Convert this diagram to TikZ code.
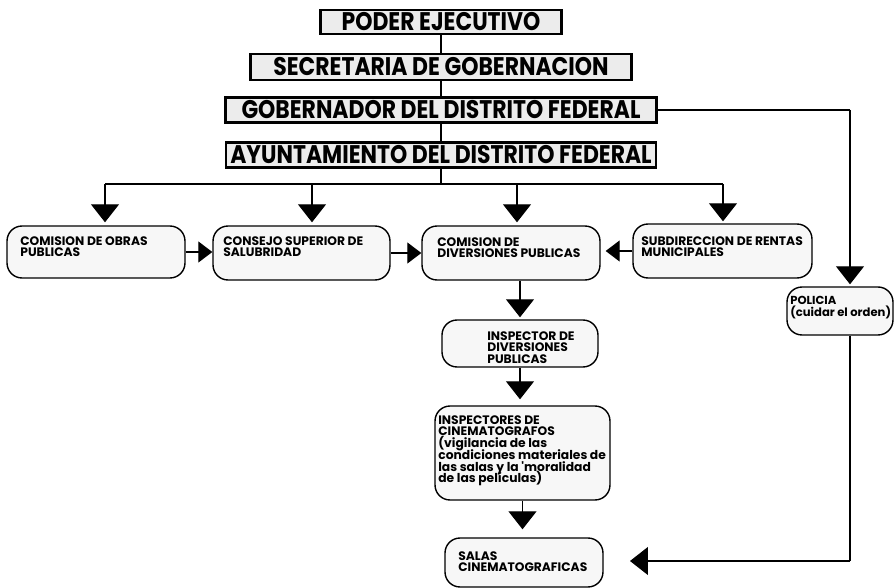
\documentclass[tikz,border=0pt]{standalone}
\usepackage{fontspec}
\newfontfamily\boxfont{Poppins}
\newfontfamily\topfont{Poppins}[FakeStretch=0.86]
\newcommand\tightlines{\lineskiplimit=-5pt\relax}
\usetikzlibrary{arrows.meta}

\begin{document}
\begin{tikzpicture}[x=0.02cm,y=-0.02cm,
    topbox/.style={draw, line width=1.3pt, fill=gray!15, inner sep=0pt,
      font=\topfont\bfseries\fontsize{14.5}{16}\selectfont},
    roundbox/.style={draw, line width=0.8pt, rounded corners=0.3cm, fill=gray!6, inner sep=0pt},
    boxtext/.style={anchor=north west, inner sep=0pt, align=left,
      font=\boxfont\bfseries\fontsize{7}{6.7}\selectfont\tightlines},
    conn/.style={line width=0.6pt},
    bigarrow/.style={conn, -{Triangle[length=0.36cm,width=0.56cm]}},
    sidearrow/.style={conn, -{Triangle[length=0.28cm,width=0.42cm]}}]
  \useasboundingbox (0,0) rectangle (894,588);

  % top of the chain
  \node[topbox, minimum width=4.82cm, minimum height=0.48cm] (poder) at (441,22) {PODER EJECUTIVO\hspace{0.5cm}};
  \node[topbox, minimum width=7.62cm, minimum height=0.52cm] (secre) at (441,67) {SECRETARIA DE GOBERNACION};
  \node[topbox, minimum width=8.62cm, minimum height=0.5cm] (gober) at (441,110) {GOBERNADOR DEL DISTRITO FEDERAL};
  \node[topbox, minimum width=8.6cm, minimum height=0.5cm] (ayunt) at (441,155) {AYUNTAMIENTO DEL DISTRITO FEDERAL};

  % rounded boxes
  \node[roundbox, minimum width=3.56cm, minimum height=1.04cm] (obras) at (96,252) {};
  \node[roundbox, minimum width=3.54cm, minimum height=1.08cm] (consejo) at (301.5,253) {};
  \node[roundbox, minimum width=3.56cm, minimum height=1.08cm] (cdp) at (511,253) {};
  \node[roundbox, minimum width=3.58cm, minimum height=1.08cm] (subdir) at (722.5,251) {};
  \node[roundbox, minimum width=2.12cm, minimum height=0.96cm] (policia) at (840,311) {};
  \node[roundbox, minimum width=3.12cm, minimum height=0.94cm] (insp) at (520,343.5) {};
  \node[roundbox, minimum width=3.5cm, minimum height=1.88cm] (inspc) at (522.5,453) {};
  \node[roundbox, minimum width=3.16cm, minimum height=0.98cm] (salas) at (524,562.5) {};

  \node[boxtext] (tobras) at (20,236) {COMISION DE OBRAS\\PUBLICAS};
  \node[boxtext] (tconsejo) at (223,236) {CONSEJO SUPERIOR DE\\SALUBRIDAD};
  \node[boxtext] (tcdp) at (437,237) {COMISION DE\\DIVERSIONES PUBLICAS};
  \node[boxtext] (tsubdir) at (641,236) {SUBDIRECCION DE RENTAS\\MUNICIPALES};
  \node[boxtext, font=\boxfont\bfseries\fontsize{6.6}{6.7}\selectfont] (tpolicia) at (790,296) {POLICIA\\(cuidar el orden)};
  \node[boxtext] (tinsp) at (487,331) {INSPECTOR DE\\DIVERSIONES\\PUBLICAS};
  \node[boxtext] (tinspc) at (438,415) {INSPECTORES DE\\CINEMATOGRAFOS\\(vigilancia de las\\condiciones materiales de\\las salas y la 'moralidad\\de las películas)};
  \node[boxtext] (tsalas) at (458,551) {SALAS\\CINEMATOGRAFICAS};

  % connectors
  \draw[conn] (poder.south -| secre.north) -- (secre.north);
  \draw[conn] (secre) -- (gober);
  \draw[conn] (gober) -- (ayunt);
  \coordinate (b1) at (105,184);
  \coordinate (b2) at (312,184);
  \coordinate (b3) at (517,184);
  \coordinate (b4) at (723,184);
  \draw[conn] (ayunt.south) -- (ayunt.south |- b1);
  \draw[conn] (b1) -- (b4);
  \draw[bigarrow, shorten >=0.06cm] (b1) -- (b1 |- obras.north);
  \draw[bigarrow, shorten >=0.06cm] (b2) -- (b2 |- consejo.north);
  \draw[bigarrow, shorten >=0.06cm] (b3) -- (b3 |- cdp.north);
  \draw[bigarrow, shorten >=0.04cm] (b4) -- (b4 |- subdir.north);

  \draw[sidearrow] (obras.east) -- (obras.east -| consejo.west);
  \draw[sidearrow] (consejo.east) -- (consejo.east -| cdp.west);
  \draw[sidearrow, shorten >=0.1cm] (subdir.west) -- (subdir.west -| cdp.east);

  \draw[bigarrow, shorten >=0.04cm] (cdp.south -| insp.north) -- (insp.north);
  \draw[bigarrow, shorten >=0.12cm] (insp.south) -- (insp.south |- inspc.north);
  \draw[bigarrow, shorten >=0.16cm] (inspc.south) -- (inspc.south |- salas.north);

  \coordinate (pr) at (850,110);
  \coordinate (pb) at (850,561);
  \coordinate (ps) at (630,561);
  \draw[conn] (gober.east) -- (gober.east -| pr);
  \draw[bigarrow, shorten >=0.04cm] (gober.east -| pr) -- (pr |- policia.north);
  \draw[conn] (pr |- policia.south) -- (pb);
  \draw[bigarrow] (pb) -- (ps);
\end{tikzpicture}
\end{document}
